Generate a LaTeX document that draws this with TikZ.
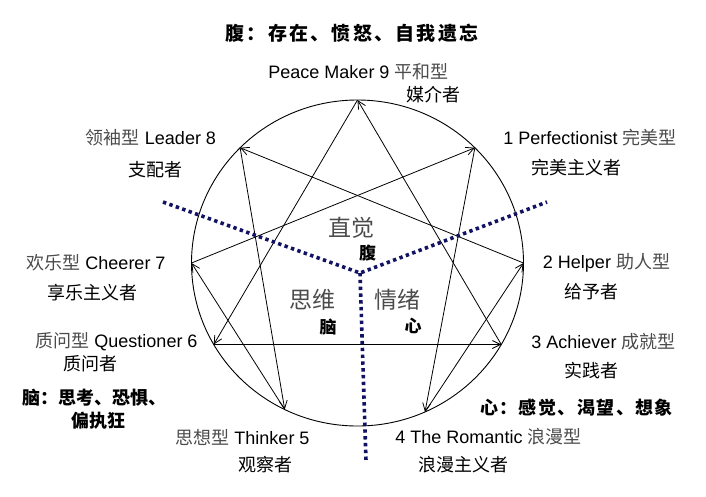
\documentclass[tikz,border=0pt]{standalone}
\usepackage{fontspec}
\setmainfont{Liberation Sans}
\newfontfamily\cjk{Noto Sans CJK SC}
\newfontfamily\cjkbrush{Noto Sans CJK SC}
\usetikzlibrary{arrows.meta,calc}
\definecolor{dotnavy}{RGB}{18,18,100}
\definecolor{songgray}{RGB}{75,75,75}
\newcommand{\hei}[1]{{\cjk #1}}
\newcommand{\song}[1]{{\cjk\color{songgray}#1}}

\begin{document}
\begin{tikzpicture}[x=1pt,y=-1pt,
		lbl/.style={inner sep=0pt,font=\fontsize{18}{18}\selectfont},
		brush/.style={inner sep=0pt,font=\cjkbrush\bfseries\fontsize{18}{18}\selectfont},
		zone/.style={inner sep=0pt,text=songgray,font=\cjk\fontsize{23}{23}\selectfont},
		enn/.style={-{Straight Barb[length=8pt,width=8pt]},line width=0.8pt},
		split/.style={dotnavy,line width=3.6pt,dash pattern=on 3.4pt off 3.4pt}]
				\useasboundingbox (0,0) rectangle (706,496);
				% enneagram circle and its nine points
				\coordinate (C) at (357.5,263);
				\draw[line width=0.9pt] (C) ellipse (166 and 163);
				\foreach \n/\a in {9/90,1/45,2/0,3/-30,4/-66,5/-116,6/-150,7/180,8/135}
					\coordinate (p\n) at ($(C)+(-\a:166 and 163)$);
				% inner lines
				\foreach \s/\t in {9/6,6/3,3/9,1/4,4/2,2/8,8/5,5/7,7/1}
					\draw[enn] (p\s) -- (p\t);
				% three centres
				\coordinate (D) at (360,273);
				\coordinate (dl) at (163,202);
				\coordinate (dr) at (547,202);
				\coordinate (db) at (366,461);
				\draw[split] (dl) -- (D) -- (dr);
				\draw[split] (D) -- (db);
				\node[zone] (gutz) at (351.5,228) {直觉};
				\node[brush,font=\cjkbrush\bfseries\fontsize{17}{17}\selectfont] (gutc) at (367.5,253) {腹};
				\node[zone] (headz) at (312.5,300) {思维};
				\node[brush,font=\cjkbrush\bfseries\fontsize{17}{17}\selectfont] (headc) at (328,327) {脑};
				\node[zone] (heartz) at (397.5,300) {情绪};
				\node[brush,font=\cjkbrush\bfseries\fontsize{17}{17}\selectfont] (heartc) at (413,326) {心};
				% type labels
				\node[lbl] (t9) at (358.5,72) {Peace Maker 9 \song{平和型}};
				\node[lbl] (t9b) at (433,95) {\hei{媒介者}};
				\node[lbl] (t8) at (151,138) {\song{领袖型} Leader 8};
				\node[lbl] (t8b) at (155,170) {\hei{支配者}};
				\node[lbl] (t7) at (96,263) {\song{欢乐型} Cheerer 7};
				\node[lbl] (t7b) at (92,293) {\hei{享乐主义者}};
				\node[lbl] (t6) at (116.5,342) {\song{质问型} Questioner 6};
				\node[lbl] (t6b) at (90.5,364) {\hei{质问者}};
				\node[lbl] (t5) at (242.5,437) {\song{思想型} Thinker 5};
				\node[lbl] (t5b) at (265,465) {\hei{观察者}};
				\node[lbl] (t4) at (488.5,437) {4 The Romantic \song{浪漫型}};
				\node[lbl] (t4b) at (463,465) {\hei{浪漫主义者}};
				\node[lbl] (t3) at (603.5,342) {3 Achiever \song{成就型}};
				\node[lbl] (t3b) at (591,371) {\hei{实践者}};
				\node[lbl] (t2) at (606.5,263) {2 Helper \song{助人型}};
				\node[lbl] (t2b) at (591,292) {\hei{给予者}};
				\node[lbl] (t1) at (590,138) {1 Perfectionist \song{完美型}};
				\node[lbl] (t1b) at (576,168) {\hei{完美主义者}};
				% centre notes
				\node[brush,font=\cjkbrush\bfseries\fontsize{19}{19}\selectfont\addfontfeature{LetterSpace=12}] (gutn) at (352,33) {腹：存在、愤怒、自我遗忘};
				\node[brush] (headn) at (94,398) {脑：思考、恐惧、};
				\node[brush] (headn2) at (98.5,421) {偏执狂};
				\node[brush,font=\cjkbrush\bfseries\fontsize{18}{18}\selectfont\addfontfeature{LetterSpace=8}] (heartn) at (576.5,408) {心：感觉、渴望、想象};
\end{tikzpicture}
\end{document}
